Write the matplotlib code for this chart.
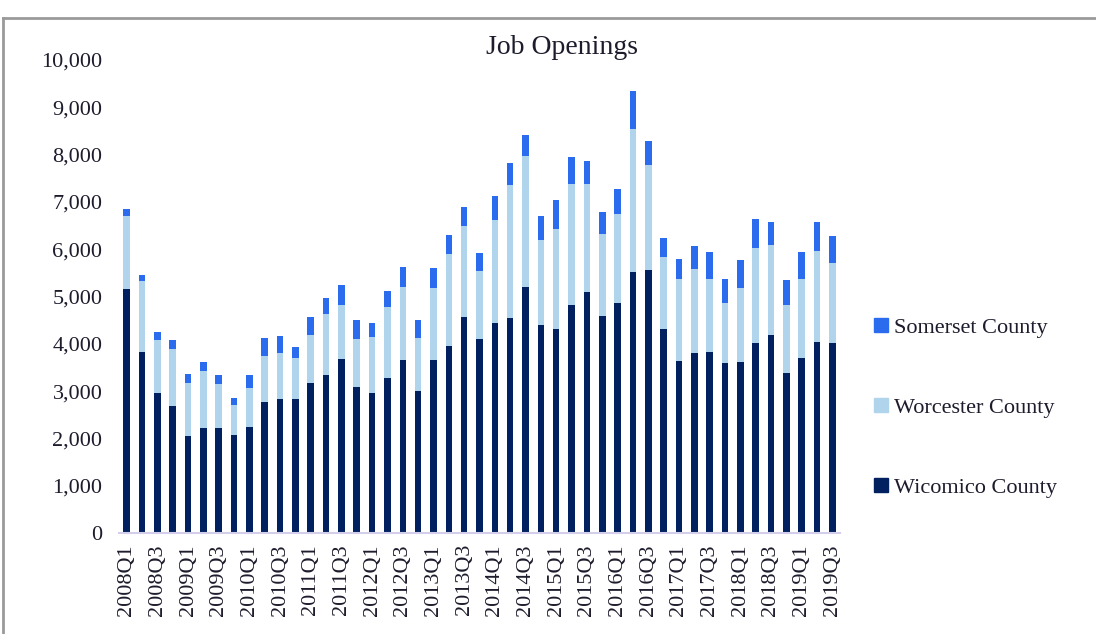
import numpy as np
import matplotlib.pyplot as plt
from matplotlib.lines import Line2D

# Données
quarters = [f"{y}Q{q}" for y in range(2008, 2020) for q in range(1, 5)][:47]

wicomico = [5150, 3830, 2950, 2690, 2060, 2230, 2230, 2080, 2240, 2780, 2840, 2840,
            3180, 3350, 3680, 3080, 2950, 3280, 3660, 3010, 3660, 3950, 4570, 4100,
            4440, 4550, 5210, 4400, 4320, 4830, 5100, 4590, 4860, 5520, 5560, 4310,
            3640, 3810, 3830, 3590, 3610, 4010, 4190, 3390, 3690, 4040, 4020]
worcester = [1550, 1490, 1140, 1210, 1120, 1190, 930, 630, 830, 970, 970, 850,
             1010, 1270, 1150, 1020, 1190, 1500, 1540, 1120, 1530, 1940, 1930, 1440,
             2170, 2800, 2750, 1790, 2100, 2550, 2280, 1730, 1880, 3020, 2230, 1530,
             1740, 1770, 1540, 1270, 1560, 2010, 1900, 1430, 1690, 1920, 1690]
somerset = [150, 130, 150, 180, 180, 200, 170, 140, 270, 370, 350, 250,
            380, 350, 410, 400, 300, 340, 420, 370, 410, 410, 390, 370,
            510, 470, 450, 520, 610, 570, 480, 470, 530, 810, 490, 400,
            410, 480, 560, 500, 600, 610, 490, 520, 560, 620, 560]

c_wic = '#002060'
c_wor = '#B0D4EC'
c_som = '#2B6BEE'
txt = '#1c1c2c'

plt.rcParams['font.family'] = ['Liberation Serif', 'DejaVu Serif']

fig = plt.figure(figsize=(10.96, 6.34), dpi=100)
ax = fig.add_axes([0.1086, 0.1593, 0.6578, 0.7461])

x = np.arange(len(quarters))
w = 0.43
wic = np.array(wicomico)
wor = np.array(worcester)
som = np.array(somerset)
ax.bar(x, wic, w, color=c_wic, label='Wicomico County')
ax.bar(x, wor, w, bottom=wic, color=c_wor, label='Worcester County')
ax.bar(x, som, w, bottom=wic + wor, color=c_som, label='Somerset County')

ax.set_xlim(-0.5, len(quarters) - 0.5)
ax.set_ylim(0, 10000)
ax.set_yticks(np.arange(0, 10001, 1000))
ax.set_yticklabels([f"{v:,}" for v in range(0, 10001, 1000)], fontsize=16, color=txt)
ax.set_xticks(x[::2])
ax.set_xticklabels(quarters[::2], rotation=90, fontsize=16, color=txt)
ax.tick_params(axis='y', length=0, pad=12)
ax.tick_params(axis='x', length=0, pad=8)

for s in ['top', 'right', 'left']:
    ax.spines[s].set_visible(False)
ax.spines['bottom'].set_color('#D3CFEA')
ax.spines['bottom'].set_linewidth(1.5)

fig.text(0.513, 0.925, 'Job Openings', ha='center', va='center', fontsize=20, color=txt)

handles = [Line2D([], [], marker='s', linestyle='', markersize=10, color=c)
           for c in [c_som, c_wor, c_wic]]
labels = ['Somerset County', 'Worcester County', 'Wicomico County']
fig.legend(handles, labels, loc='center left', bbox_to_anchor=(0.775, 0.357),
           frameon=False, fontsize=16, labelspacing=2.68, handletextpad=0.1,
           handlelength=1.0, labelcolor=txt)

# cadre gris
fig.add_artist(Line2D([0.003, 1.0], [1 - 18 / 634] * 2, color='#9a9a9a', lw=2,
                      transform=fig.transFigure))
fig.add_artist(Line2D([0.003, 0.003], [0, 1 - 18 / 634], color='#9a9a9a', lw=2,
                      transform=fig.transFigure))

fig.savefig('out.png', dpi=100)
